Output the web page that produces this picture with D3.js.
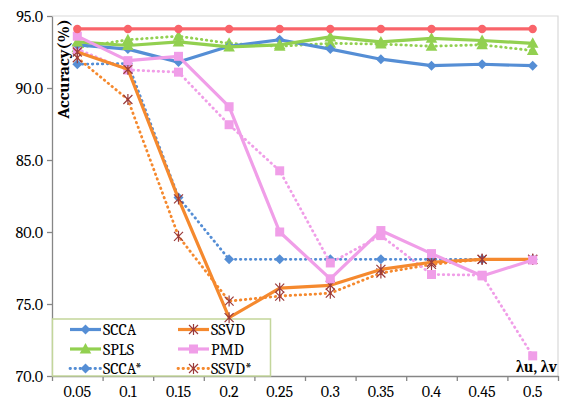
<!DOCTYPE html>
<html>
<head>
<meta charset="utf-8">
<script src="https://cdn.jsdelivr.net/npm/d3@7"></script>
<style>
  html, body { margin: 0; padding: 0; background: #fff; }
  svg { display: block; }
</style>
</head>
<body>
<svg id="chart" width="561" height="400"></svg>
<script>
// ---- data ----
const categories = ["0.05", "0.1", "0.15", "0.2", "0.25", "0.3", "0.35", "0.4", "0.45", "0.5"];
const yTicks = [70, 75, 80, 85, 90, 95];
const topLine = [94.1, 94.1, 94.1, 94.1, 94.1, 94.1, 94.1, 94.1, 94.1, 94.1];
const scca = [93.0, 92.7, 91.8, 92.9, 93.35, 92.7, 92.0, 91.55, 91.65, 91.55];
const ssvd = [92.5, 91.3, 82.3, 74.05, 76.1, 76.3, 77.4, 77.9, 78.1, 78.1];
const spls = [93.2, 92.95, 93.2, 92.85, 93.0, 93.55, 93.2, 93.45, 93.3, 93.1];
const pmd = [93.6, 91.9, 92.2, 88.7, 80.0, 76.75, 80.1, 78.5, 76.95, 78.05];
const sccaStar = [91.65, 91.7, 82.4, 78.1, 78.1, 78.1, 78.1, 78.1, 78.1, 78.1];
const ssvdStar = [92.1, 89.2, 79.7, 75.2, 75.55, 75.75, 77.15, 77.75, 78.1, 78.1];
const splsStar = [92.8, 93.35, 93.6, 93.1, 92.9, 93.1, 93.05, 92.9, 93.0, 92.6];
const pmdStar = [92.7, 91.25, 91.1, 87.45, 84.25, 77.85, 79.75, 77.05, 77.0, 71.4];
const legendNames = ["SCCA", "SSVD", "SPLS", "PMD", "SCCA*", "SSVD*"];

// ---- styling ----
const FONT = 'Caladea, "Liberation Serif", serif';
const C = { red: "#f9646a", blue: "#558ed5", green: "#92d050", orange: "#f5892e", pink: "#f09ee8", star: "#9b3b3b" };
const series = [
  { name: "SCCA*", values: sccaStar, color: C.blue, dotted: true, marker: "diamond" },
  { name: "SSVD*", values: ssvdStar, color: C.orange, dotted: true, marker: "star" },
  { name: "SPLS*", values: splsStar, color: C.green, dotted: true, marker: "triangle" },
  { name: "PMD*", values: pmdStar, color: C.pink, dotted: true, marker: "square" },
  { name: "SCCA", values: scca, color: C.blue, dotted: false, marker: "diamond" },
  { name: "SSVD", values: ssvd, color: C.orange, dotted: false, marker: "star" },
  { name: "SPLS", values: spls, color: C.green, dotted: false, marker: "triangle" },
  { name: "PMD", values: pmd, color: C.pink, dotted: false, marker: "square" },
  { name: "top", values: topLine, color: C.red, dotted: false, marker: "circle" }
];

const svg = d3.select("#chart");
const L = 52, R = 558, T = 16, B = 376;

const x = d3.scaleBand().domain(categories).range([L, R]);
const xi = d3.scaleLinear().domain([0, categories.length]).range([L, R]);
const y = d3.scaleLinear().domain([70, 95]).range([B, T]);

// plot border (top & right light)
svg.append("path")
  .attr("d", `M${L},${T}H${R}V${B}`)
  .attr("fill", "none").attr("stroke", "#d9d9d9").attr("stroke-width", 1.2);

// y axis
const yAxis = svg.append("g").attr("transform", `translate(${L},0)`)
  .call(d3.axisLeft(y).tickValues(yTicks).tickFormat(d3.format(".1f")).tickSize(5).tickSizeOuter(0).tickPadding(4));
yAxis.attr("font-family", null).attr("font-size", null);
yAxis.selectAll("text").style("font-size", "16px").style("font-family", FONT);
yAxis.selectAll("line, path").attr("stroke", "#868686").attr("stroke-width", 1.3);

// x axis tick marks at category boundaries
const xTickAxis = svg.append("g").attr("transform", `translate(0,${B})`)
  .call(d3.axisBottom(xi).tickValues(d3.range(categories.length + 1)).tickFormat("").tickSize(5).tickSizeOuter(0));
xTickAxis.selectAll("line, path").attr("stroke", "#868686").attr("stroke-width", 1.3);

// x axis labels
const xAxis = svg.append("g").attr("transform", `translate(0,${B})`)
  .call(d3.axisBottom(x).tickSize(0).tickPadding(10));
xAxis.attr("font-family", null).attr("font-size", null);
xAxis.select(".domain").remove();
xAxis.selectAll("text").style("font-size", "16px").style("font-family", FONT);

// axis titles
svg.append("text")
  .attr("transform", `translate(69,19) rotate(-90)`)
  .attr("text-anchor", "end")
  .style("font-family", FONT)
  .style("font-size", "17px").style("font-weight", "bold")
  .text("Accuracy(%)");
svg.append("text")
  .attr("x", 557).attr("y", 372)
  .attr("text-anchor", "end")
  .style("font-family", FONT)
  .style("font-size", "16px").style("font-weight", "bold")
  .text("λu, λv");

// marker drawing
function drawMarker(g, type, color) {
  if (type === "circle") {
    g.append("circle").attr("r", 4.2).attr("fill", color);
  } else if (type === "diamond") {
    g.append("path").attr("d", "M0,-5L5,0L0,5L-5,0Z").attr("fill", color);
  } else if (type === "triangle") {
    g.append("path").attr("d", "M0,-6L5.8,4.5L-5.8,4.5Z").attr("fill", color);
  } else if (type === "square") {
    g.append("rect").attr("x", -4.5).attr("y", -4.5).attr("width", 9).attr("height", 9).attr("fill", color);
  } else if (type === "star") {
    g.append("path").attr("d", "M-4.5,-4.5L4.5,4.5M-4.5,4.5L4.5,-4.5M0,-5.5L0,5.5")
      .attr("stroke", C.star).attr("stroke-width", 1.2).attr("fill", "none");
  }
}

// legend (drawn under series)
const lg = svg.append("g");
lg.append("rect").attr("x", 52.5).attr("y", 319).attr("width", 218).attr("height", 57)
  .attr("fill", "#fff").attr("stroke", "#c3d69b").attr("stroke-width", 1.5);
const legendStyles = {
  "SCCA": series[4], "SSVD": series[5], "SPLS": series[6], "PMD": series[7], "SCCA*": series[0], "SSVD*": series[1]
};
const rowY = [329.5, 349, 368.5];
const colX = [70, 178];
legendNames.forEach((n, i) => {
  const s = legendStyles[n];
  const cx = colX[i % 2], cy = rowY[Math.floor(i / 2)];
  const item = lg.append("g").attr("transform", `translate(${cx},${cy})`);
  item.append("line").attr("x1", 0).attr("x2", 31).attr("y1", 0).attr("y2", 0)
    .attr("stroke", s.color).attr("stroke-width", s.dotted ? 2.8 : 3.2)
    .attr("stroke-linecap", s.dotted ? "round" : "butt")
    .attr("stroke-dasharray", s.dotted ? "0.5,4.5" : null);
  drawMarker(item.append("g").attr("transform", "translate(15.5,0)"), s.marker, s.color);
  item.append("text").attr("x", 33).attr("y", 0).attr("dy", "0.35em")
    .style("font-family", FONT)
    .style("font-size", "16px").text(n);
});

// series
const line = d3.line().x((d, i) => x(categories[i]) + x.bandwidth() / 2).y(d => y(d));
series.forEach(s => {
  svg.append("path").datum(s.values)
    .attr("d", line).attr("fill", "none")
    .attr("stroke", s.color)
    .attr("stroke-width", s.dotted ? 2.8 : 3.2)
    .attr("stroke-linejoin", "round")
    .attr("stroke-linecap", s.dotted ? "round" : "butt")
    .attr("stroke-dasharray", s.dotted ? "0.5,4.5" : null);
  s.values.forEach((v, i) => {
    const g = svg.append("g").attr("transform", `translate(${x(categories[i]) + x.bandwidth() / 2},${y(v)})`);
    drawMarker(g, s.marker, s.color);
  });
});
</script>
</body>
</html>
